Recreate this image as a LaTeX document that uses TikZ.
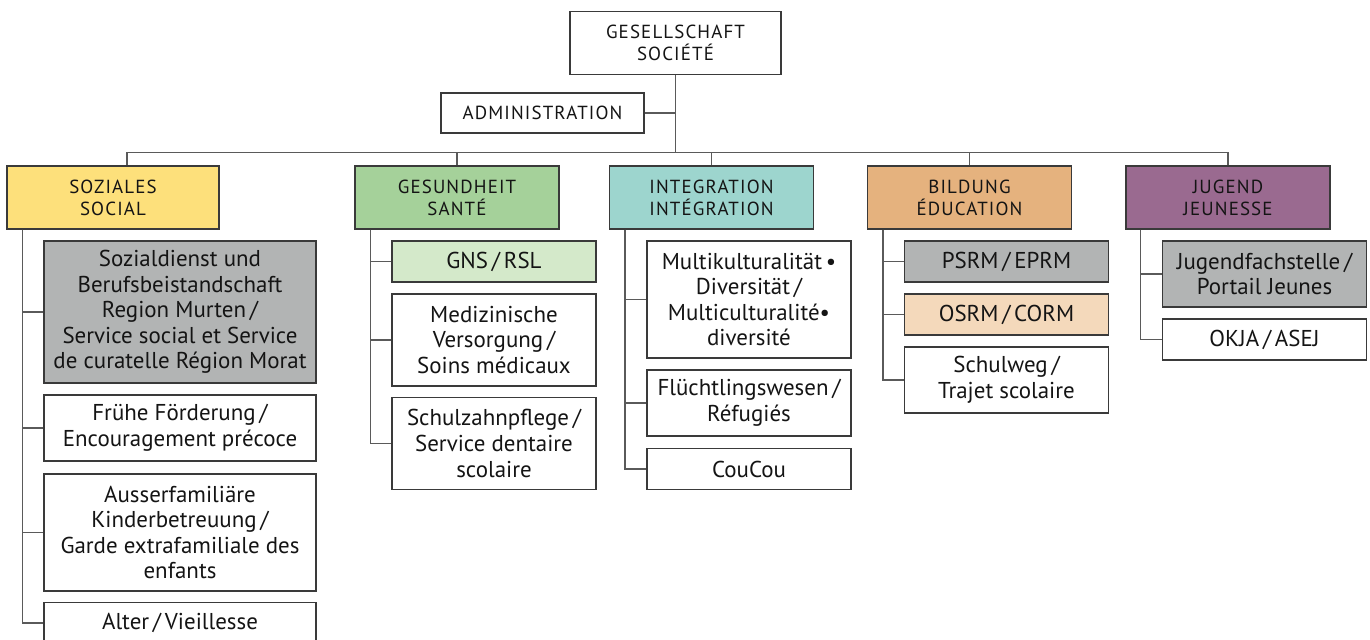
\documentclass[tikz,border=0pt]{standalone}
\usepackage{fontspec}
\setmainfont{PT Sans}
\usetikzlibrary{positioning, calc}

\definecolor{soziales}{HTML}{FDE07B}
\definecolor{gesund}{HTML}{A5D19A}
\definecolor{integ}{HTML}{9DD5CE}
\definecolor{bildung}{HTML}{E5B27E}
\definecolor{jugend}{HTML}{9A6A90}
\definecolor{grau}{HTML}{B2B4B4}
\definecolor{hellgruen}{HTML}{D4E9CA}
\definecolor{hellorange}{HTML}{F4D9BB}
\definecolor{linie}{HTML}{5A5A5A}
\definecolor{rand}{HTML}{3A3A3A}
\definecolor{schrift}{HTML}{141414}

\tikzset{
    box/.style={draw=rand, line width=0.95pt, fill=white, align=center,
        inner sep=0pt, text=schrift, minimum width=153pt,
        font=\fontsize{17.2}{19.2}\selectfont},
    head/.style={box, minimum height=47.25pt,
        font=\fontsize{14.2}{16.5}\selectfont\addfontfeatures{LetterSpace=6}},
    wide/.style={minimum width=204pt},
    oneline/.style={minimum height=30.75pt},
    twolines/.style={minimum height=49.5pt},
    threelines/.style={minimum height=69pt},
    fourlines/.style={minimum height=87.75pt},
    fivelines/.style={minimum height=106.5pt},
    link/.style={draw=linie, line width=0.95pt},
}

\begin{document}
\begin{tikzpicture}[x=0.75pt, y=-0.75pt]

    \useasboundingbox (0,0) rectangle (1370,639);

    % top
    \node[head, minimum width=158.25pt] (gesellschaft) at (675.5,43) {GESELLSCHAFT\\SOCIÉTÉ};
    \node[head, minimum width=152.25pt, minimum height=30pt] (admin) at (542.5,113) {ADMINISTRATION};

    % departments
    \node[head, fill=soziales, minimum width=159pt] (soziales) at (113,197.5) {SOZIALES\\SOCIAL};
    \node[head, fill=gesund]  (gesundheit) at (457,197.5)   {GESUNDHEIT\\SANTÉ};
    \node[head, fill=integ]   (integration) at (711.5,197.5) {INTEGRATION\\INTÉGRATION};
    \node[head, fill=bildung] (bildung) at (969.5,197.5)    {BILDUNG\\ÉDUCATION};
    \node[head, fill=jugend]  (jugend) at (1228,197.5)      {JUGEND\\JEUNESSE};

    % soziales
    \node[box, wide, fivelines, fill=grau] (sozialdienst) at (180,312)
        {Sozialdienst und\\Berufsbeistandschaft\\Region Murten\,/\\Service social et Service\\de curatelle Région Morat};
    \node[box, wide, twolines] (foerderung) at (180,428) {Frühe Förderung\,/\\Encouragement précoce};
    \node[box, wide, fourlines] (betreuung) at (180,532.5)
        {Ausserfamiliäre\\Kinderbetreuung\,/\\Garde extrafamiliale des\\enfants};
    \node[box, wide, oneline] (alter) at (180,623) {Alter\,/\,Vieillesse};

    % gesundheit
    \node[box, oneline, fill=hellgruen] (gns) at (494,261.5) {GNS\,/\,RSL};
    \node[box, threelines] (versorgung) at (494,340) {Medizinische\\Versorgung\,/\\Soins médicaux};
    \node[box, threelines] (zahnpflege) at (494,443.5) {Schulzahnpflege\,/\\Service dentaire\\scolaire};

    % integration
    \node[box, fourlines] (diversitaet) at (749,299.5)
        {Multikulturalität\,•\\Diversität\,/\\Multiculturalité•\\diversité};
    \node[box, twolines] (fluechtlinge) at (749,403) {Flüchtlingswesen\,/\\Réfugiés};
    \node[box, oneline] (coucou) at (749,469) {CouCou};

    % bildung
    \node[box, oneline, fill=grau] (psrm) at (1006.5,261.5) {PSRM\,/\,EPRM};
    \node[box, oneline, fill=hellorange] (osrm) at (1006.5,314.5) {OSRM\,/\,CORM};
    \node[box, twolines] (schulweg) at (1006.5,380) {Schulweg\,/\\Trajet scolaire};

    % jugend
    \node[box, twolines, fill=grau] (fachstelle) at (1264.5,274) {Jugendfachstelle\,/\\Portail Jeunes};
    \node[box, oneline] (okja) at (1264.5,339.5) {OKJA\,/\,ASEJ};

    % connectors
    \coordinate (bus) at ($(gesellschaft.south)+(0,77)$);
    \draw[link] (gesellschaft.south) -- (bus);
    \draw[link] (admin.east) -- (admin.east -| gesellschaft.south);
    \draw[link] ($(soziales.north)+(14,0)$) |- (bus);
    \draw[link] (jugend.north) |- (bus);
    \foreach \d in {gesundheit, integration, bildung}
        \draw[link] (\d.north) -- (\d.north |- bus);

    \foreach \c in {sozialdienst, foerderung, betreuung, alter}
        \draw[link] ($(soziales.south west)+(16,0)$) |- (\c.west);
    \foreach \c in {gns, versorgung, zahnpflege}
        \draw[link] ($(gesundheit.south west)+(16,0)$) |- (\c.west);
    \foreach \c in {diversitaet, fluechtlinge, coucou}
        \draw[link] ($(integration.south west)+(16,0)$) |- (\c.west);
    \foreach \c in {psrm, osrm, schulweg}
        \draw[link] ($(bildung.south west)+(16,0)$) |- (\c.west);
    \foreach \c in {fachstelle, okja}
        \draw[link] ($(jugend.south west)+(15,0)$) |- (\c.west);

\end{tikzpicture}
\end{document}
